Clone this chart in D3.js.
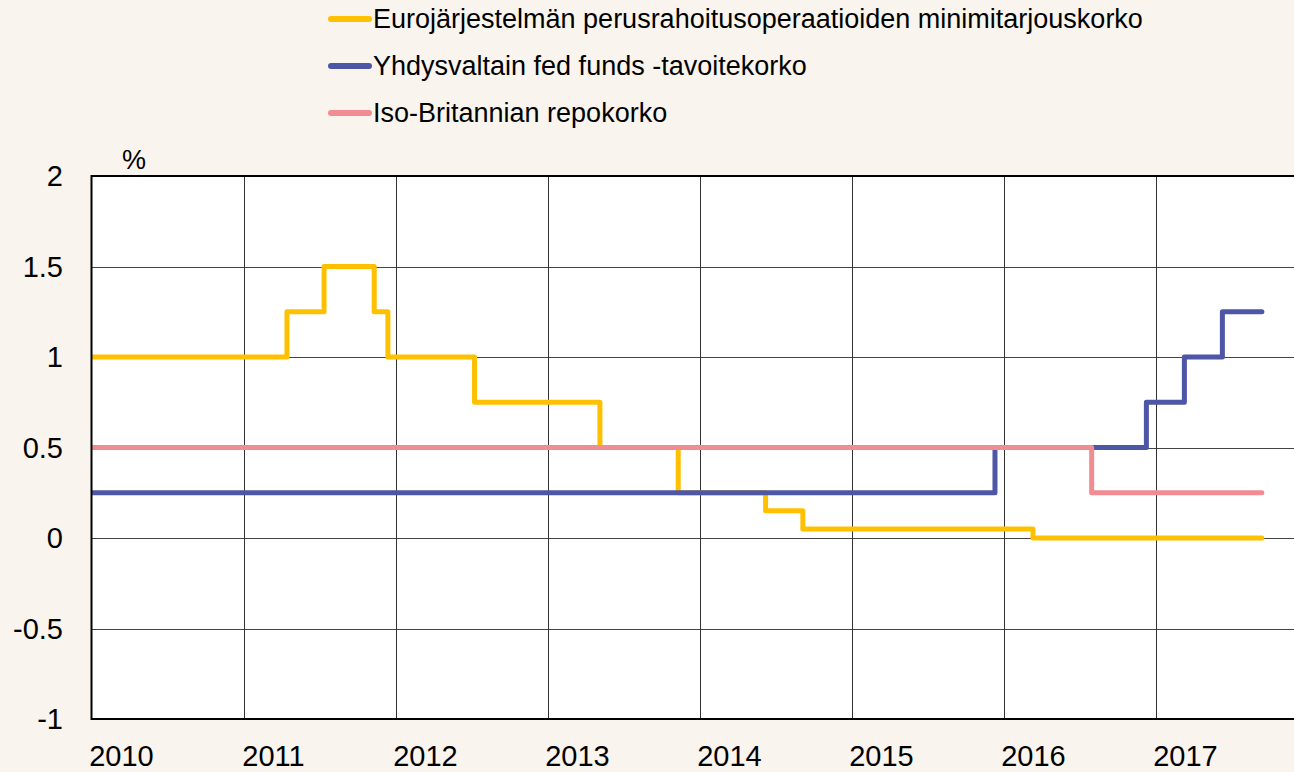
<!DOCTYPE html>
<html>
<head>
<meta charset="utf-8">
<script src="https://cdn.jsdelivr.net/npm/d3@7"></script>
<style>
  html, body { margin: 0; padding: 0; background: #f9f4ee; }
  svg { display: block; font-family: Arial, "Liberation Sans", sans-serif; }
</style>
</head>
<body>
<svg id="chart" width="1294" height="772"></svg>
<script>
(function(){
    'use strict';

    // Series names (legend)
    const seriesNames = [
        'Eurojärjestelmän perusrahoitusoperaatioiden minimitarjouskorko',
        'Yhdysvaltain fed funds -tavoitekorko',
        'Iso-Britannian repokorko'
    ];

    // Step change dates (decimal years) and rates, %
    const ecbDates = [2010.0, 2011.286, 2011.53, 2011.86, 2011.95, 2012.52, 2013.345, 2013.86, 2014.435, 2014.68, 2016.194, 2017.70];
    const ecbRates = [1.0, 1.25, 1.5, 1.25, 1.0, 0.75, 0.5, 0.25, 0.15, 0.05, 0.0, 0.0];

    const fedDates = [2010.0, 2015.944, 2016.94, 2017.19, 2017.44, 2017.70];
    const fedRates = [0.25, 0.5, 0.75, 1.0, 1.25, 1.25];

    const boeDates = [2010.0, 2016.58, 2017.70];
    const boeRates = [0.5, 0.25, 0.25];

    const yearTicks = [2010, 2011, 2012, 2013, 2014, 2015, 2016, 2017];
    const yTicks = [-1, -0.5, 0, 0.5, 1, 1.5, 2];

    const colors = ['#ffc000', '#4e56a6', '#f08c92'];

    const width = 1294;
    const height = 772;
    const margin = {top: 176, bottom: 53, left: 91.5, right: 0};

    const svg = d3.select('#chart');

    const x = d3.scaleLinear()
        .domain([2010, 2018])
        .range([margin.left, margin.left + 152 * 8]);

    const y = d3.scaleLinear()
        .domain([-1, 2])
        .range([height - margin.bottom, margin.top]);

    svg.append('clipPath').attr('id', 'plotClip')
        .append('rect')
        .attr('x', margin.left).attr('y', margin.top - 2)
        .attr('width', width - margin.left).attr('height', y(-1) - margin.top + 4);

    // Plot background
    svg.append('rect')
        .attr('x', margin.left).attr('y', margin.top)
        .attr('width', width - margin.left).attr('height', y(-1) - y(2))
        .attr('fill', '#ffffff');

    const plot = svg.append('g').attr('clip-path', 'url(#plotClip)');

    // Grid
    plot.append('g')
        .selectAll('line')
        .data(yTicks.filter(d => d > -1 && d < 2))
        .enter()
        .append('line')
            .attr('x1', margin.left).attr('x2', width)
            .attr('y1', d => Math.round(y(d)) + 0.5).attr('y2', d => Math.round(y(d)) + 0.5)
            .attr('stroke', '#444').attr('stroke-width', 1);

    plot.append('g')
        .selectAll('line')
        .data(yearTicks.slice(1))
        .enter()
        .append('line')
            .attr('x1', d => Math.round(x(d)) + 0.5).attr('x2', d => Math.round(x(d)) + 0.5)
            .attr('y1', y(2)).attr('y2', y(-1))
            .attr('stroke', '#333').attr('stroke-width', 1);

    // Frame
    svg.append('line')
        .attr('x1', margin.left).attr('x2', width)
        .attr('y1', y(2)).attr('y2', y(2))
        .attr('stroke', '#000').attr('stroke-width', 2);
    svg.append('line')
        .attr('x1', margin.left).attr('x2', width)
        .attr('y1', y(-1)).attr('y2', y(-1))
        .attr('stroke', '#000').attr('stroke-width', 2);
    svg.append('line')
        .attr('x1', margin.left).attr('x2', margin.left)
        .attr('y1', y(2) - 1).attr('y2', y(-1) + 1)
        .attr('stroke', '#000').attr('stroke-width', 2);

    // Step lines
    const line = d3.line()
        .x(d => x(d.date))
        .y(d => y(d.rate))
        .curve(d3.curveStepAfter);

    const series = [
        {dates: ecbDates, rates: ecbRates},
        {dates: fedDates, rates: fedRates},
        {dates: boeDates, rates: boeRates}
    ];

    series.forEach((s, i) => {
        const pts = s.dates.map((d, j) => ({date: d, rate: s.rates[j]}));
        plot.append('path')
            .datum(pts)
            .attr('d', line)
            .attr('fill', 'none')
            .attr('stroke', colors[i])
            .attr('stroke-width', 5)
            .attr('stroke-linejoin', 'round')
            .attr('stroke-linecap', 'round');
    });

    // Y tick labels
    svg.append('g')
        .selectAll('text')
        .data(yTicks)
        .enter()
        .append('text')
            .attr('x', 63)
            .attr('y', d => y(d))
            .attr('dy', '0.35em')
            .attr('text-anchor', 'end')
            .attr('font-size', 29)
            .attr('fill', '#000')
            .text(d => d);

    svg.append('text')
        .attr('x', 134).attr('y', 169)
        .attr('text-anchor', 'middle')
        .attr('font-size', 27)
        .text('%');

    // X tick labels
    svg.append('g')
        .selectAll('text')
        .data(yearTicks)
        .enter()
        .append('text')
            .attr('x', d => x(d) + 30)
            .attr('y', 766)
            .attr('text-anchor', 'middle')
            .attr('font-size', 29)
            .attr('fill', '#000')
            .text(d => d);

    // Legend
    const legend = svg.append('g');
    const legendY = [19, 66, 113];
    seriesNames.forEach((name, i) => {
        legend.append('line')
            .attr('x1', 331).attr('x2', 369)
            .attr('y1', legendY[i]).attr('y2', legendY[i])
            .attr('stroke', colors[i])
            .attr('stroke-width', 6)
            .attr('stroke-linecap', 'round');
        legend.append('text')
            .attr('x', 373).attr('y', legendY[i])
            .attr('dy', '0.35em')
            .attr('font-size', 27)
            .attr('fill', '#000')
            .text(name);
    });
})();
</script>
</body>
</html>
